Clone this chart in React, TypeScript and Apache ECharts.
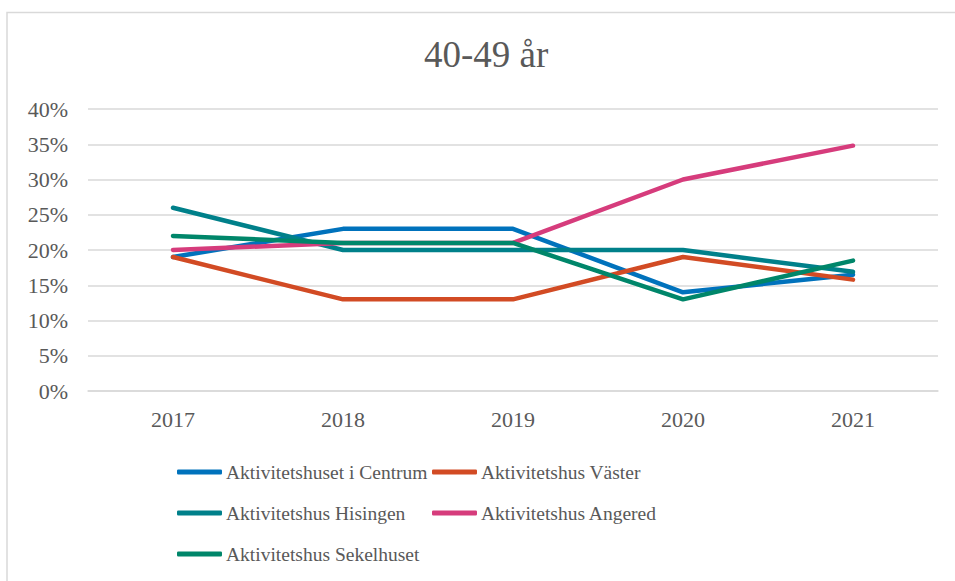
import React, { useEffect, useRef } from "react";
import * as echarts from "echarts";

const years = ["2017", "2018", "2019", "2020", "2021"];
const seriesNames = [
  "Aktivitetshuset i Centrum",
  "Aktivitetshus Väster",
  "Aktivitetshus Hisingen",
  "Aktivitetshus Angered",
  "Aktivitetshus Sekelhuset",
];
const centrum = [19, 23, 23, 14, 16.5];
const vaster = [19, 13, 13, 19, 15.8];
const hisingen = [26, 20, 20, 20, 16.9];
const angered = [20, 21, 21, 30, 34.8];
const sekelhuset = [22, 21, 21, 13, 18.5];
const seriesValues = [centrum, vaster, hisingen, angered, sekelhuset];
const colors = ["#0072BC", "#D24B24", "#00808A", "#D63C7C", "#00866A"];

const FONT = "'Liberation Serif', 'Times New Roman', serif";

export default function App() {
  const ref = useRef<HTMLDivElement>(null);
  useEffect(() => {
    if (!ref.current) return;
    const chart = echarts.init(ref.current, undefined, { renderer: "svg" });
    const legendCommon = {
      orient: "vertical" as const,
      icon: "roundRect",
      itemWidth: 45,
      itemHeight: 5,
      itemGap: 21,
      padding: 0,
      selectedMode: false,
      textStyle: { fontFamily: FONT, fontSize: 19.5, color: "#595959", lineHeight: 20, padding: [0, 0, 0, -1] },
    };
    chart.setOption({
      animation: false,
      backgroundColor: "#ffffff",
      color: colors,
      title: {
        text: "40-49 år",
        left: 419,
        top: 31,
        textStyle: { fontFamily: FONT, fontSize: 37, fontWeight: "normal", color: "#595959" },
      },
      graphic: [
        {
          type: "rect",
          shape: { x: 7, y: 12.5, width: 1000, height: 1000 },
          style: { fill: "none", stroke: "#d9d9d9", lineWidth: 1.5 },
          silent: true,
        },
      ],
      legend: [
        { ...legendCommon, left: 177, top: 462, data: [seriesNames[0], seriesNames[2], seriesNames[4]] },
        { ...legendCommon, left: 432, top: 462, data: [seriesNames[1], seriesNames[3]] },
      ],
      grid: { left: 88, right: 17, top: 109, bottom: 190, containLabel: false },
      xAxis: {
        type: "category",
        data: years,
        boundaryGap: true,
        axisLine: { show: true, lineStyle: { color: "#d9d9d9", width: 1.5 } },
        axisTick: { show: false },
        axisLabel: { fontFamily: FONT, fontSize: 22, color: "#595959", margin: 17 },
      },
      yAxis: {
        type: "value",
        min: 0,
        max: 40,
        interval: 5,
        axisLine: { show: false },
        axisTick: { show: false },
        splitLine: { lineStyle: { color: "#d9d9d9", width: 1.5 } },
        axisLabel: {
          fontFamily: FONT,
          fontSize: 22,
          color: "#595959",
          margin: 20,
          formatter: (v: number) => `${v}%`,
        },
      },
      series: seriesNames.map((name, i) => ({
        name,
        type: "line",
        data: seriesValues[i],
        showSymbol: false,
        symbol: "none",
        lineStyle: { width: 4.5, cap: "round", join: "round", color: colors[i] },
        itemStyle: { color: colors[i] },
      })),
    });
    return () => chart.dispose();
  }, []);
  return (
    <div
      ref={ref}
      style={{ position: "fixed", left: 0, top: 0, width: 955, height: 581, background: "#fff" }}
    />
  );
}
